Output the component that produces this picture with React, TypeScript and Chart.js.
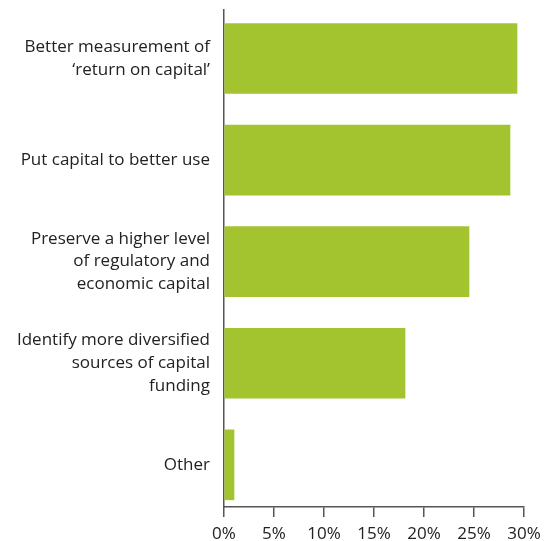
import React, { useEffect, useRef } from "react";
import { Chart, registerables } from "chart.js";

Chart.register(...registerables);

const categories: string[][] = [
  ["Better measurement of", "\u2018return on capital\u2019"],
  ["Put capital to better use"],
  ["Preserve a higher level", "of regulatory and", "economic capital"],
  ["Identify more diversified", "sources of capital", "funding"],
  ["Other"],
];
const values: number[] = [29.3, 28.6, 24.5, 18.1, 1.0];
const xTicks: number[] = [0, 5, 10, 15, 20, 25, 30];

const GREEN = "#a4c42f";
const AXIS = "#555555";
const TEXT = "#222222";
const FONT = "'Open Sans', 'Noto Sans', sans-serif";

export default function App() {
  const ref = useRef<HTMLCanvasElement | null>(null);
  useEffect(() => {
    if (!ref.current) return;
    const chart = new Chart(ref.current, {
      type: "bar",
      data: {
        datasets: [
          {
            data: values.map((v, i) => ({ x: v, y: i })),
            backgroundColor: GREEN,
            borderWidth: 0,
            barThickness: 70,
          },
        ],
      },
      options: {
        indexAxis: "y",
        animation: false,
        responsive: false,
        maintainAspectRatio: false,
        layout: { padding: { left: 0, right: 29, top: 10, bottom: 0 } },
        plugins: { legend: { display: false }, tooltip: { enabled: false } },
        scales: {
          x: {
            type: "linear",
            min: 0,
            max: 30,
            afterBuildTicks: (s: any) => {
              s.ticks = xTicks.map((v) => ({ value: v }));
            },
            afterFit: (s: any) => {
              s.height = 34;
            },
            ticks: {
              callback: (v: any) => v + "%",
              color: TEXT,
              font: { family: FONT, size: 17 },
              padding: 7,
              maxRotation: 0,
            },
            grid: {
              drawOnChartArea: false,
              drawTicks: true,
              tickLength: 10,
              color: AXIS,
              lineWidth: 1.5,
            },
            border: { display: true, color: AXIS, width: 1.5 },
          },
          y: {
            type: "linear",
            reverse: true,
            offset: false,
            min: -0.477,
            max: 4.415,
            afterBuildTicks: (s: any) => {
              s.ticks = categories.map((_, i) => ({ value: i }));
            },
            afterFit: (s: any) => {
              s.width = 224;
              s.paddingTop = 0;
              s.paddingBottom = 0;
            },
            ticks: {
              callback: (v: any) => categories[v] as any,
              color: TEXT,
              font: { family: FONT, size: 17, lineHeight: 1.35 },
              padding: 14,
              autoSkip: false,
            },
            grid: { display: false, drawTicks: false },
            border: { display: true, color: AXIS, width: 1.5 },
          },
        },
      } as any,
    });
    return () => chart.destroy();
  }, []);
  return (
    <div style={{ position: "fixed", left: 0, top: 0, width: 553, height: 541, background: "#fff" }}>
      <canvas ref={ref} width={553} height={541} style={{ width: 553, height: 541 }} />
    </div>
  );
}
